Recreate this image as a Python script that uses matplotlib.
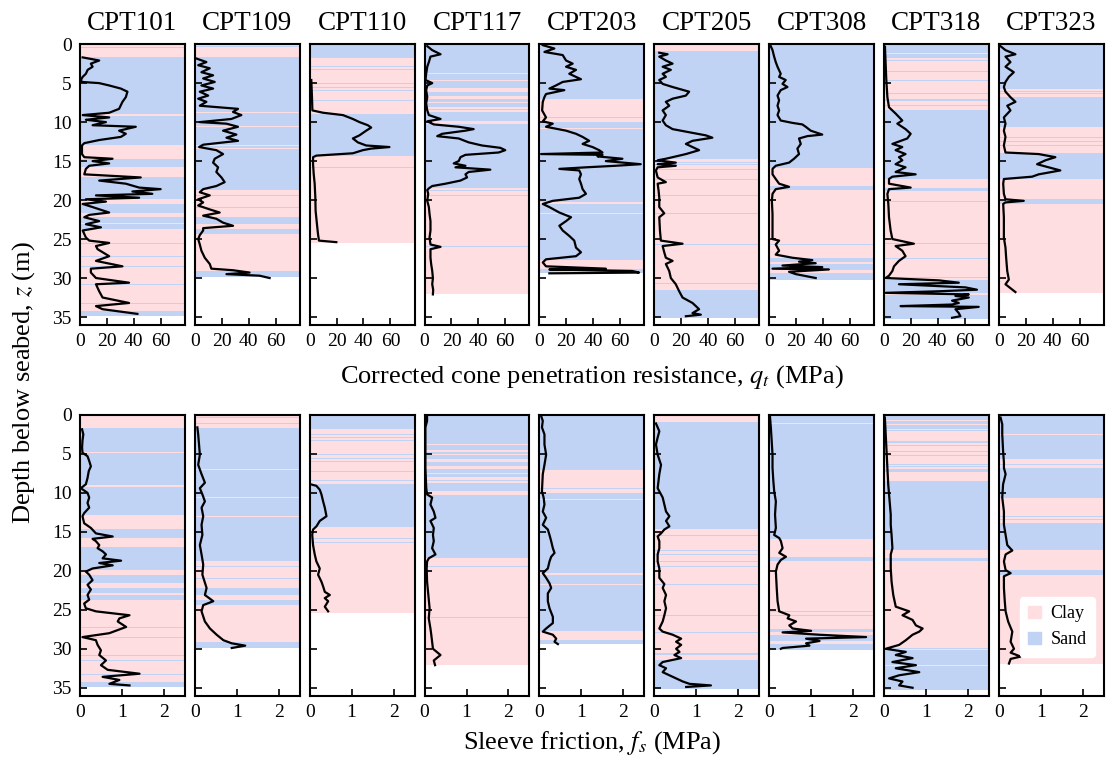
"""CPT profiles: qt (top row) and fs (bottom row) against depth, with the
clay / sand soil classification shown as coloured bands behind each trace."""
import numpy as np
import matplotlib
matplotlib.use("Agg")
import matplotlib.pyplot as plt
from matplotlib.patches import Patch

plt.rcParams["font.family"] = ["Liberation Serif", "DejaVu Serif"]
plt.rcParams["mathtext.fontset"] = "stix"

CLAY = "#ffdee2"
SAND = "#c1d3f4"

NAMES = ["CPT101", "CPT109", "CPT110", "CPT117", "CPT203",
         "CPT205", "CPT308", "CPT318", "CPT323"]

# soil layers: (top m, bottom m, C=clay / S=sand)
LAYERS_101 = [(0, 1.7, "C"), (0.35, 0.45, "S"), (1.7, 12.9, "S"), (4.8, 4.9, "C"),
              (9.0, 9.25, "C"), (12.9, 14.7, "C"), (14.7, 15.8, "S"), (15.8, 17.0, "C"),
              (17.0, 19.9, "S"), (19.9, 20.5, "C"), (20.5, 21.6, "S"), (21.6, 22.2, "C"),
              (22.2, 22.9, "S"), (22.9, 23.1, "C"), (23.1, 23.7, "S"), (23.7, 34.2, "C"),
              (25.5, 25.6, "S"), (27.2, 27.3, "S"), (28.5, 28.6, "S"), (30.8, 30.9, "S"),
              (31.5, 31.6, "S"), (33.2, 33.3, "S"), (34.2, 34.9, "S")]
LAYERS_109 = [(0, 1.7, "C"), (0.3, 0.4, "S"), (1.1, 1.2, "S"), (1.7, 18.7, "S"),
              (7.0, 7.1, "C"), (8.7, 8.8, "C"), (10.5, 10.6, "C"), (13.0, 13.1, "C"),
              (13.3, 13.4, "C"), (18.7, 22.2, "C"), (19.4, 19.5, "S"), (20.9, 21.0, "S"),
              (22.2, 23.1, "S"), (23.1, 23.7, "C"), (23.7, 24.4, "S"), (24.4, 29.1, "C"),
              (29.1, 29.9, "S")]
LAYERS_110 = [(0, 1.6, "S"), (1.6, 8.9, "C"), (1.6, 1.8, "S"), (2.5, 2.6, "S"),
              (2.85, 2.95, "S"), (3.2, 3.3, "S"), (5.0, 5.1, "S"), (5.55, 5.65, "S"),
              (5.9, 6.0, "S"), (7.2, 7.3, "S"), (8.4, 8.5, "S"), (8.9, 14.4, "S"),
              (14.4, 25.45, "C"), (15.8, 15.9, "S"), (16.35, 16.45, "S")]
LAYERS_117 = [(0, 18.4, "S"), (3.75, 3.85, "C"), (4.55, 4.7, "C"), (5.05, 5.15, "C"),
              (5.6, 6.1, "C"), (6.6, 7.0, "C"), (7.4, 7.6, "C"), (8.0, 8.3, "C"),
              (8.5, 8.7, "C"), (9.8, 10.3, "C"), (18.4, 32.1, "C"), (18.7, 18.8, "S"),
              (19.4, 19.5, "S"), (25.9, 26.0, "S")]
LAYERS_203 = [(0, 7.1, "S"), (7.1, 10.0, "C"), (9.35, 9.5, "S"), (10.0, 29.4, "S"),
              (10.8, 10.9, "C"), (20.3, 20.5, "C"), (21.7, 21.8, "C"), (27.7, 28.9, "C")]
LAYERS_205 = [(0, 0.86, "C"), (0.86, 14.7, "S"), (14.7, 31.5, "C"), (15.1, 15.2, "S"),
              (15.4, 15.5, "S"), (16.0, 16.1, "S"), (17.3, 17.4, "S"), (17.9, 18.0, "S"),
              (18.8, 18.9, "S"), (19.4, 19.5, "S"), (21.7, 21.8, "S"), (25.7, 25.8, "S"),
              (27.9, 28.0, "S"), (30.6, 30.8, "S"), (31.5, 35.1, "S")]
LAYERS_308 = [(0, 15.9, "S"), (1.1, 1.2, "C"), (15.9, 18.2, "C"), (18.2, 18.7, "S"),
              (18.7, 27.4, "C"), (25.2, 25.3, "S"), (25.7, 25.8, "S"), (27.4, 27.9, "S"),
              (27.9, 28.2, "C"), (28.2, 29.0, "S"), (29.0, 29.4, "C"), (29.4, 30.2, "S")]
LAYERS_318 = [(0, 1.8, "S"), (0.7, 0.8, "C"), (1.2, 1.3, "C"), (1.8, 8.5, "C"),
              (2.0, 2.1, "S"), (3.4, 3.6, "S"), (3.9, 4.0, "S"), (4.6, 4.7, "S"),
              (5.2, 5.3, "S"), (6.3, 6.4, "S"), (6.6, 6.7, "S"), (7.0, 7.3, "S"),
              (7.8, 7.9, "S"), (8.5, 17.3, "S"), (17.3, 18.4, "C"), (18.4, 18.8, "S"),
              (18.8, 30.2, "C"), (20.1, 20.2, "S"), (25.5, 25.6, "S"), (27.4, 27.5, "S"),
              (29.9, 30.0, "S"), (30.2, 35.3, "S"), (31.9, 32.0, "C"), (32.1, 32.2, "C")]
LAYERS_323 = [(0, 5.7, "S"), (2.5, 2.6, "C"), (5.7, 6.8, "C"), (6.0, 6.1, "S"),
              (6.3, 6.4, "S"), (6.8, 10.6, "S"), (10.6, 13.9, "C"), (11.9, 12.0, "S"),
              (12.4, 12.5, "S"), (13.0, 13.1, "S"), (13.4, 13.5, "S"), (13.9, 17.3, "S"),
              (17.3, 19.9, "C"), (19.9, 20.5, "S"), (20.5, 31.9, "C")]

# corrected cone resistance: (depth m, qt MPa)
QT_101 = [(1.7, 2.0), (2.1, 14.3), (2.5, 8.1), (2.9, 9.4), (3.3, 5.7), (3.8, 4.4), (4.2, 2.0),
          (4.6, 0.7), (4.85, 1.5), (5.0, 14.3), (5.3, 21.7), (5.7, 30.4), (6.1, 35.3),
          (6.8, 34.1), (7.4, 31.6), (8.3, 29.1), (8.8, 21.7), (9.1, 2.0), (9.4, 21.7),
          (9.7, 4.4), (10.0, 19.3), (10.4, 9.4), (10.6, 41.5), (11.1, 29.1), (11.5, 34.1),
          (11.9, 30.4), (12.3, 14.3), (12.7, 3.2), (13.0, 1.5), (14.1, 1.5), (14.5, 3.2),
          (14.7, 24.2), (15.0, 9.4), (15.3, 21.7), (15.6, 6.9), (16.0, 4.4), (16.7, 3.2),
          (17.1, 45.2), (17.5, 14.3), (17.9, 34.1), (18.4, 44.0), (18.6, 60.0), (18.9, 39.0),
          (19.2, 53.8), (19.4, 11.9), (19.7, 44.0), (19.9, 4.4), (20.2, 19.3), (20.5, 2.0),
          (20.9, 9.4), (21.6, 21.7), (21.9, 6.9), (22.2, 3.2), (22.7, 14.3), (23.1, 4.4),
          (23.5, 15.6), (23.9, 2.0), (24.8, 4.4), (25.2, 6.9), (25.5, 21.7), (25.9, 11.9),
          (26.3, 13.1), (27.2, 21.7), (27.8, 11.9), (28.5, 31.6), (28.8, 8.1), (29.3, 8.1),
          (30.0, 11.9), (30.6, 36.5), (30.8, 11.9), (31.7, 14.3), (32.5, 16.8), (33.2, 36.5),
          (33.6, 11.9), (34.0, 16.8), (34.6, 42.7)]
QT_109 = [(1.85, 1.2), (2.3, 8.6), (2.7, 2.5), (3.1, 11.1), (3.6, 4.9), (4.0, 13.6), (4.4, 6.2),
          (4.85, 14.8), (5.3, 4.9), (5.7, 13.6), (6.1, 3.7), (6.6, 9.9), (7.0, 2.5), (7.4, 8.6),
          (7.9, 3.7), (8.3, 32.1), (8.7, 28.4), (9.1, 34.6), (9.6, 27.2), (10.0, 3.7),
          (10.2, 23.5), (10.6, 32.1), (11.1, 21.0), (11.6, 30.9), (12.0, 23.5), (12.4, 32.1),
          (12.9, 6.2), (13.2, 3.2), (13.6, 16.0), (14.1, 21.0), (14.7, 14.8), (15.2, 13.6),
          (15.8, 17.3), (16.4, 16.0), (17.1, 19.8), (17.7, 22.2), (18.2, 16.0), (18.6, 6.2),
          (19.0, 3.7), (19.4, 11.1), (19.9, 2.5), (20.3, 6.2), (20.7, 2.5), (21.2, 11.1),
          (21.6, 18.5), (22.0, 6.2), (22.4, 16.0), (22.9, 21.0), (23.3, 28.4), (23.6, 6.2),
          (23.9, 6.2), (24.5, 3.7), (25.0, 2.5), (25.7, 3.7), (26.5, 4.9), (27.4, 7.4),
          (28.2, 11.1), (28.8, 12.3), (29.0, 28.4), (29.3, 40.7), (29.5, 23.5), (29.7, 48.1),
          (30.0, 55.6)]
QT_110 = [(4.6, 1.2), (6.8, 1.7), (8.5, 2.0), (8.8, 9.9), (9.1, 24.7), (9.6, 32.1), (10.0, 37.0),
          (10.4, 43.2), (10.7, 45.7), (11.1, 42.0), (11.7, 37.0), (12.1, 32.1), (12.6, 35.8),
          (13.0, 42.0), (13.2, 59.3), (13.4, 45.7), (13.6, 39.5), (14.0, 32.1), (14.3, 4.9),
          (14.5, 2.5), (15.4, 2.5), (16.7, 3.0), (17.9, 3.7), (19.7, 4.2), (21.4, 4.4),
          (23.1, 5.4), (24.4, 6.2), (25.2, 6.9), (25.4, 19.8)]
QT_117 = [(0.26, 2.0), (0.77, 5.7), (1.3, 11.9), (1.6, 4.4), (2.3, 3.2), (2.9, 2.0), (3.8, 1.2),
          (4.6, 0.7), (5.0, 5.7), (5.3, 2.0), (5.9, 1.2), (6.8, 2.0), (7.6, 1.2), (8.5, 2.0),
          (9.1, 3.2), (9.6, 11.9), (9.9, 2.0), (10.3, 6.9), (10.6, 25.4), (10.9, 36.5),
          (11.1, 30.4), (11.5, 13.1), (11.8, 9.4), (12.1, 25.4), (12.6, 32.8), (13.0, 42.7),
          (13.3, 56.3), (13.6, 60.0), (13.9, 55.1), (14.2, 30.4), (14.5, 26.7), (15.0, 25.4),
          (15.3, 21.7), (15.6, 30.4), (15.8, 23.0), (16.1, 48.9), (16.4, 32.8), (16.7, 30.4),
          (17.1, 31.6), (17.5, 26.7), (17.9, 15.6), (18.2, 5.7), (18.5, 3.2), (18.7, 2.0),
          (19.2, 2.7), (20.1, 2.0), (20.9, 3.2), (21.8, 3.7), (22.7, 4.4), (23.9, 4.4),
          (24.8, 3.7), (25.7, 4.4), (26.0, 11.9), (26.3, 4.4), (27.4, 4.4), (28.2, 4.9),
          (29.1, 5.7), (30.0, 6.2), (30.8, 5.7), (31.5, 6.4), (32.1, 6.2)]
QT_203 = [(0.13, 2.5), (0.56, 11.1), (1.0, 3.7), (1.4, 17.3), (2.1, 19.8), (2.5, 24.7),
          (2.9, 19.8), (3.3, 27.2), (3.8, 22.2), (4.5, 30.9), (4.85, 17.3), (5.3, 12.3),
          (5.7, 7.4), (5.9, 18.5), (6.4, 4.9), (6.8, 3.7), (7.4, 2.5), (8.5, 2.0), (9.4, 4.9),
          (9.9, 2.5), (10.2, 9.9), (10.6, 4.9), (11.1, 19.8), (11.5, 27.2), (11.9, 32.1),
          (12.4, 37.0), (12.8, 32.1), (13.2, 39.5), (13.6, 44.4), (13.9, 46.9), (14.1, 1.2),
          (14.2, 46.9), (14.4, 43.2), (14.7, 61.7), (15.0, 49.4), (15.4, 75.3), (15.6, 56.8),
          (15.8, 34.6), (16.0, 14.8), (16.2, 29.6), (16.7, 30.9), (17.3, 29.6), (17.9, 30.9),
          (18.6, 32.1), (19.2, 34.6), (19.7, 29.6), (20.1, 9.9), (20.5, 2.5), (20.9, 7.4),
          (21.6, 14.8), (22.2, 23.5), (22.7, 19.8), (23.3, 14.8), (23.9, 17.3), (24.6, 22.2),
          (25.2, 25.9), (26.1, 27.2), (26.7, 30.9), (27.2, 27.2), (27.6, 4.9), (28.0, 2.5),
          (28.5, 4.9), (28.8, 49.4), (28.9, 7.4), (29.1, 69.1), (29.3, 74.1), (29.4, 7.4)]
QT_205 = [(1.1, 3.7), (1.3, 9.9), (1.6, 3.7), (2.1, 8.6), (2.5, 13.6), (2.9, 6.2), (3.3, 12.3),
          (3.8, 6.2), (4.2, 8.6), (4.6, 3.7), (5.1, 6.2), (5.5, 13.6), (6.1, 25.9), (6.6, 23.5),
          (7.0, 13.6), (7.4, 8.6), (7.9, 11.1), (8.5, 6.2), (9.1, 8.6), (9.8, 6.2), (10.4, 8.6),
          (10.9, 13.6), (11.3, 25.9), (11.7, 38.3), (12.0, 43.2), (12.4, 28.4), (12.8, 23.5),
          (13.2, 28.4), (13.6, 33.3), (14.1, 23.5), (14.5, 13.6), (14.7, 8.6), (14.9, 2.5),
          (15.2, 16.0), (15.4, 2.5), (15.6, 16.0), (15.8, 2.5), (16.2, 1.2), (17.1, 2.5),
          (17.7, 8.6), (17.9, 2.5), (18.8, 3.2), (19.7, 3.7), (20.9, 3.7), (21.7, 7.4),
          (22.2, 3.7), (23.9, 4.2), (25.2, 4.9), (25.6, 21.0), (25.9, 6.2), (26.7, 7.4),
          (27.4, 8.6), (27.8, 13.6), (28.2, 8.6), (29.1, 11.1), (30.0, 12.3), (30.8, 16.0),
          (31.7, 18.5), (32.5, 21.0), (33.2, 28.4), (33.6, 30.9), (34.0, 33.3), (34.5, 28.4),
          (34.7, 34.6), (34.9, 23.5)]
QT_308 = [(0.26, 1.2), (0.77, 2.5), (1.6, 3.7), (2.3, 4.9), (2.9, 6.2), (3.8, 8.6), (4.2, 7.4),
          (4.6, 12.3), (5.1, 9.9), (5.5, 13.6), (5.9, 8.6), (6.6, 6.2), (7.2, 7.4), (7.9, 6.2),
          (8.5, 7.4), (9.1, 6.2), (9.8, 8.6), (10.1, 17.3), (10.3, 24.7), (10.6, 27.2),
          (11.1, 30.9), (11.6, 39.5), (11.8, 28.4), (12.1, 22.2), (12.8, 23.5), (13.4, 21.0),
          (14.1, 22.2), (14.7, 18.5), (15.2, 14.8), (15.6, 4.9), (16.0, 2.5), (16.7, 2.5),
          (17.3, 4.9), (17.9, 7.4), (18.3, 14.8), (18.6, 4.9), (19.2, 2.5), (20.1, 2.0),
          (21.8, 2.5), (23.9, 2.5), (25.0, 2.5), (25.2, 7.4), (25.7, 4.9), (26.5, 7.4),
          (27.0, 4.9), (27.4, 17.3), (27.7, 32.1), (27.9, 22.2), (28.1, 34.6), (28.4, 9.9),
          (28.6, 39.5), (28.8, 2.5), (28.9, 44.4), (29.2, 14.8), (29.5, 19.8), (30.0, 34.6)]
QT_318 = [(0.34, 0.7), (2.5, 1.2), (4.6, 1.7), (6.8, 2.5), (8.1, 3.7), (8.9, 8.6), (9.8, 13.6),
          (10.2, 9.9), (10.9, 16.0), (11.5, 19.8), (12.1, 17.3), (12.8, 6.2), (13.2, 13.6),
          (13.6, 8.6), (14.1, 16.0), (14.5, 11.1), (14.9, 13.6), (15.4, 8.6), (15.8, 16.0),
          (16.1, 12.3), (16.4, 8.6), (16.7, 23.5), (17.0, 6.2), (17.3, 3.7), (17.9, 3.7),
          (18.4, 19.8), (18.6, 3.7), (19.2, 2.5), (20.5, 3.2), (22.2, 3.7), (23.9, 4.9),
          (25.0, 6.2), (25.6, 22.2), (25.9, 8.6), (26.5, 13.6), (27.2, 16.0), (27.8, 11.1),
          (28.5, 7.4), (29.1, 6.2), (29.7, 3.7), (30.0, 1.2), (30.3, 40.7), (30.6, 55.6),
          (30.8, 11.1), (31.2, 60.5), (31.5, 69.1), (31.7, 40.7), (31.9, 1.2), (32.1, 63.0),
          (32.3, 53.1), (32.5, 63.0), (32.9, 50.6), (33.2, 55.6), (33.4, 50.6), (33.6, 12.3),
          (33.7, 70.4), (34.0, 53.1), (34.5, 55.6), (34.9, 56.8), (35.1, 50.6)]
QT_323 = [(0.26, 1.2), (0.77, 4.9), (1.3, 12.3), (1.6, 4.9), (2.3, 8.6), (2.9, 4.9), (3.6, 11.1),
          (4.2, 7.4), (4.85, 4.9), (5.5, 3.7), (6.1, 4.9), (6.8, 8.6), (7.4, 12.3), (7.9, 6.2),
          (8.5, 8.6), (9.4, 3.7), (10.2, 4.9), (11.1, 3.7), (11.9, 4.9), (13.0, 3.7), (13.9, 4.9),
          (14.1, 29.6), (14.5, 42.0), (14.9, 34.6), (15.4, 28.4), (15.8, 37.0), (16.2, 45.7),
          (16.7, 29.6), (17.0, 24.7), (17.3, 3.7), (17.9, 3.2), (19.2, 3.7), (19.9, 4.9),
          (20.1, 18.5), (20.3, 4.9), (20.5, 3.2), (22.2, 3.7), (24.8, 3.7), (26.1, 4.9),
          (27.4, 5.4), (29.1, 6.2), (30.2, 7.4), (30.8, 4.9), (31.8, 12.3)]

# sleeve friction: (depth m, fs MPa)
FS_101 = [(1.85, 0.05), (2.5, 0.08), (3.3, 0.06), (4.2, 0.05), (4.85, 0.06), (5.3, 0.18),
          (5.9, 0.22), (6.6, 0.26), (7.2, 0.21), (8.1, 0.18), (8.9, 0.14), (9.4, 0.02),
          (10.0, 0.18), (10.6, 0.22), (11.3, 0.18), (11.9, 0.22), (12.6, 0.10), (13.0, 0.06),
          (13.9, 0.10), (14.5, 0.26), (15.2, 0.38), (15.6, 0.78), (15.9, 0.30), (16.2, 0.38),
          (16.7, 0.46), (17.1, 0.42), (17.5, 0.54), (17.9, 0.62), (18.4, 0.54), (18.7, 0.98),
          (19.0, 0.46), (19.3, 0.78), (19.7, 0.30), (20.1, 0.14), (20.5, 0.22), (21.2, 0.30),
          (21.8, 0.18), (22.4, 0.26), (23.1, 0.18), (23.7, 0.22), (24.2, 0.10), (24.8, 0.14),
          (25.2, 0.38), (25.7, 1.18), (26.1, 0.94), (26.5, 0.90), (27.2, 1.10), (27.6, 0.90),
          (28.0, 0.70), (28.5, 0.06), (28.9, 0.38), (29.5, 0.42), (30.2, 0.50), (30.8, 0.46),
          (31.5, 0.62), (32.1, 0.50), (32.7, 0.66), (33.2, 1.42), (33.6, 0.54), (34.0, 0.94),
          (34.5, 0.70), (34.7, 1.18)]
FS_109 = [(1.6, 0.06), (2.5, 0.08), (3.8, 0.10), (5.1, 0.12), (6.4, 0.08), (7.6, 0.16),
          (8.7, 0.24), (9.4, 0.12), (10.2, 0.18), (11.1, 0.24), (11.9, 0.16), (13.0, 0.20),
          (14.1, 0.16), (15.4, 0.18), (16.7, 0.12), (17.9, 0.16), (19.2, 0.20), (20.5, 0.18),
          (22.2, 0.28), (23.1, 0.24), (23.9, 0.44), (24.4, 0.20), (25.2, 0.16), (26.5, 0.24),
          (27.4, 0.36), (28.2, 0.52), (28.9, 0.68), (29.3, 0.88), (29.6, 1.20), (29.9, 0.88)]
FS_110 = [(8.9, 0.02), (9.1, 0.16), (9.6, 0.24), (10.2, 0.28), (11.1, 0.32), (11.9, 0.36),
          (13.0, 0.40), (13.6, 0.24), (14.3, 0.16), (14.7, 0.08), (15.4, 0.06), (16.7, 0.08),
          (17.9, 0.12), (18.8, 0.16), (19.7, 0.24), (20.5, 0.20), (21.4, 0.28), (22.0, 0.32),
          (22.7, 0.36), (23.1, 0.48), (23.5, 0.36), (23.9, 0.44), (24.6, 0.36), (25.2, 0.44)]
FS_117 = [(0.13, 0.06), (0.77, 0.06), (1.6, 0.02), (4.6, 0.02), (6.8, 0.02), (9.4, 0.04),
          (10.2, 0.06), (10.6, 0.18), (11.5, 0.14), (12.4, 0.22), (13.2, 0.26), (13.6, 0.14),
          (14.5, 0.22), (15.4, 0.20), (16.2, 0.22), (17.1, 0.18), (17.9, 0.26), (18.4, 0.10),
          (18.8, 0.06), (19.7, 0.05), (21.4, 0.06), (23.1, 0.09), (24.8, 0.12), (26.1, 0.10),
          (27.4, 0.14), (28.2, 0.16), (29.1, 0.18), (30.0, 0.20), (30.8, 0.38), (31.5, 0.22),
          (32.1, 0.25)]
FS_203 = [(0.13, 0.04), (0.77, 0.08), (1.6, 0.06), (2.5, 0.12), (3.8, 0.12), (5.1, 0.16),
          (6.4, 0.12), (7.6, 0.08), (9.8, 0.06), (10.6, 0.10), (11.5, 0.12), (12.4, 0.08),
          (13.2, 0.16), (14.1, 0.08), (14.7, 0.20), (15.4, 0.24), (16.2, 0.28), (17.1, 0.32),
          (17.7, 0.36), (18.2, 0.28), (18.8, 0.24), (19.7, 0.20), (20.3, 0.08), (20.9, 0.16),
          (21.6, 0.24), (22.2, 0.28), (22.9, 0.20), (23.9, 0.20), (24.8, 0.24), (25.9, 0.32),
          (26.7, 0.32), (27.4, 0.16), (27.8, 0.08), (28.2, 0.32), (28.7, 0.40), (29.1, 0.36),
          (29.4, 0.44)]
FS_205 = [(1.1, 0.04), (2.1, 0.12), (2.9, 0.08), (3.8, 0.04), (5.1, 0.08), (6.4, 0.16),
          (7.6, 0.12), (9.4, 0.08), (10.6, 0.20), (11.5, 0.24), (12.4, 0.28), (13.0, 0.36),
          (13.6, 0.28), (14.3, 0.36), (14.7, 0.24), (15.2, 0.16), (15.6, 0.08), (16.2, 0.12),
          (17.1, 0.12), (17.9, 0.08), (18.8, 0.08), (19.7, 0.12), (20.9, 0.12), (21.7, 0.24),
          (22.2, 0.20), (23.1, 0.28), (23.9, 0.24), (24.8, 0.28), (25.7, 0.24), (26.5, 0.20),
          (27.4, 0.12), (27.8, 0.20), (28.2, 0.44), (28.7, 0.64), (29.1, 0.52), (29.5, 0.64),
          (30.0, 0.52), (30.4, 0.60), (30.8, 0.48), (31.2, 0.64), (31.7, 0.20), (32.1, 0.12),
          (32.5, 0.28), (33.0, 0.20), (33.4, 0.36), (33.8, 0.52), (34.2, 0.68), (34.5, 0.84),
          (34.7, 1.35), (34.9, 0.76)]
FS_308 = [(0.26, 0.02), (1.6, 0.04), (3.3, 0.06), (5.1, 0.08), (6.8, 0.08), (8.5, 0.10),
          (9.8, 0.12), (11.1, 0.16), (12.8, 0.14), (14.5, 0.16), (15.4, 0.12), (15.8, 0.24),
          (16.2, 0.28), (17.1, 0.32), (17.7, 0.24), (18.2, 0.40), (18.6, 0.28), (19.2, 0.20),
          (20.1, 0.16), (22.2, 0.18), (23.9, 0.20), (25.2, 0.24), (25.7, 0.48), (26.1, 0.44),
          (26.5, 0.64), (27.0, 0.48), (27.4, 0.56), (27.7, 1.00), (27.9, 0.32), (28.2, 1.20),
          (28.5, 2.31), (28.7, 0.88), (29.0, 1.20), (29.3, 0.88), (29.6, 0.96), (29.9, 0.32),
          (30.0, 0.28)]
FS_318 = [(0.34, 0.02), (2.5, 0.04), (4.6, 0.06), (6.8, 0.08), (8.9, 0.10), (10.2, 0.12),
          (11.5, 0.14), (12.8, 0.16), (14.1, 0.16), (15.4, 0.18), (17.1, 0.20), (17.9, 0.16),
          (19.7, 0.16), (21.4, 0.18), (23.1, 0.22), (24.6, 0.28), (25.2, 0.60), (25.7, 0.44),
          (26.3, 0.68), (27.0, 0.76), (27.4, 0.92), (27.8, 0.84), (28.2, 0.68), (28.9, 0.52),
          (29.5, 0.36), (30.0, 0.04), (30.4, 0.52), (30.8, 0.28), (31.2, 0.68), (31.7, 0.20),
          (32.1, 0.76), (32.5, 0.28), (33.0, 0.84), (33.4, 0.36), (33.8, 0.12), (34.2, 0.44),
          (34.7, 0.36), (35.0, 0.68)]
FS_323 = [(0.34, 0.04), (1.2, 0.08), (2.5, 0.08), (4.6, 0.10), (6.1, 0.12), (6.8, 0.12),
          (7.6, 0.16), (8.9, 0.10), (10.6, 0.08), (12.4, 0.12), (14.1, 0.12), (15.4, 0.16),
          (16.7, 0.20), (17.4, 0.32), (17.9, 0.16), (18.8, 0.12), (19.9, 0.16), (20.3, 0.28),
          (20.7, 0.12), (22.2, 0.12), (23.9, 0.14), (25.2, 0.16), (26.5, 0.22), (27.8, 0.32),
          (29.1, 0.28), (30.0, 0.36), (30.5, 0.28), (31.0, 0.52), (31.3, 0.28), (31.9, 0.24)]

LAYERS = [LAYERS_101, LAYERS_109, LAYERS_110, LAYERS_117, LAYERS_203,
          LAYERS_205, LAYERS_308, LAYERS_318, LAYERS_323]
QT = [QT_101, QT_109, QT_110, QT_117, QT_203, QT_205, QT_308, QT_318, QT_323]
FS = [FS_101, FS_109, FS_110, FS_117, FS_203, FS_205, FS_308, FS_318, FS_323]


def draw_layers(ax, layers):
    # thick layers first, thin lenses painted over them
    for top, bot, kind in sorted(layers, key=lambda l: l[0] - l[1]):
        ax.axhspan(top, bot, color=CLAY if kind == "C" else SAND, lw=0, zorder=0)


fig, axes = plt.subplots(2, 9, figsize=(11.06, 7.61), dpi=100)
fig.subplots_adjust(left=0.0723, right=0.998, top=0.942, bottom=0.086,
                    wspace=0.095, hspace=0.321)

for j, name in enumerate(NAMES):
    for i, (prof, xmax, xt) in enumerate(((QT[j], 78, [0, 20, 40, 60]),
                                          (FS[j], 2.5, [0, 1, 2]))):
        ax = axes[i, j]
        draw_layers(ax, LAYERS[j])
        p = np.array(prof)
        ax.plot(p[:, 1], p[:, 0], color="k", lw=1.6, zorder=3)
        ax.set_xlim(0, xmax)
        ax.set_ylim(36, 0)
        ax.set_xticks(xt)
        ax.set_yticks(range(0, 36, 5))
        ax.tick_params(direction="in", length=5, width=1.2, labelsize=14, pad=6)
        for s in ax.spines.values():
            s.set_linewidth(1.5)
        if j > 0:
            ax.set_yticklabels([])
    axes[0, j].set_title(name, fontsize=19.5, pad=10)

fig.text(0.535, 0.504, "Corrected cone penetration resistance, $q_t$ (MPa)",
         ha="center", va="center", fontsize=19)
fig.text(0.535, 0.024, "Sleeve friction, $f_s$ (MPa)",
         ha="center", va="center", fontsize=19)
fig.text(0.021, 0.497, "Depth below seabed, $z$ (m)", rotation=90,
         ha="center", va="center", fontsize=19)

axes[1, 8].legend(handles=[Patch(color=CLAY, label="Clay"), Patch(color=SAND, label="Sand")],
                  loc="lower right", bbox_to_anchor=(0.914, 0.139), borderaxespad=0,
                  fontsize=13, handlelength=0.75, handleheight=0.7, handletextpad=0.5,
                  borderpad=0.45, frameon=True, edgecolor="white", framealpha=1.0)

fig.savefig("out.png", dpi=100)
